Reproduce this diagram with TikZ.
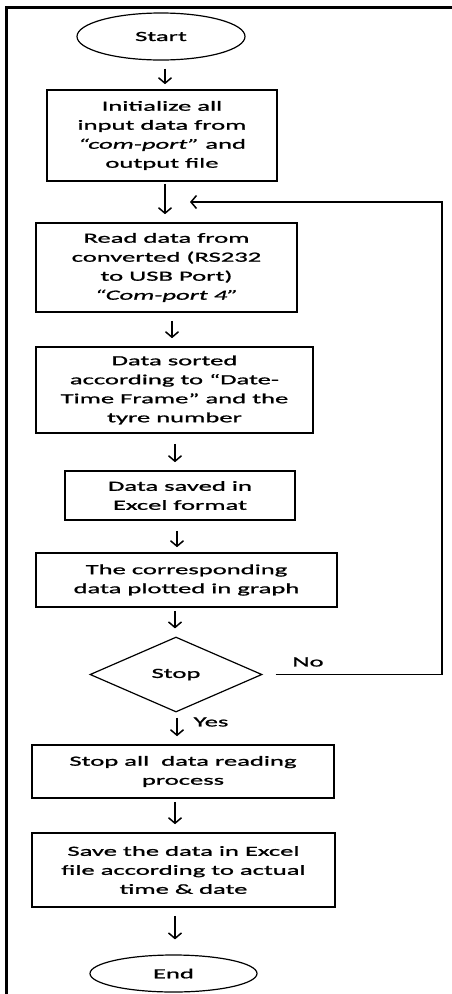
\documentclass[tikz,border=0pt]{standalone}
\usepackage{fontspec}
\setmainfont{Carlito}[FakeStretch=1.9,FakeBold=1.2]
\usetikzlibrary{arrows.meta,shapes.geometric}
\begin{document}
\begin{tikzpicture}[x=1pt,y=-1pt,
  txt/.style={font=\fontsize{14}{19}\selectfont},
  box/.style={draw, line width=1.6pt, inner sep=0pt, align=center, txt},
  term/.style={draw, ellipse, line width=1.2pt, inner sep=0pt, txt},
  dec/.style={draw, diamond, line width=1.2pt, inner sep=0pt, txt},
  arr/.style={line width=1.5pt, -{Straight Barb[length=5.5pt,width=13pt,line width=1.5pt]}},
  frame/.style={line width=3pt}]
\useasboundingbox (0,0) rectangle (452,994);
% frame
\coordinate (fb) at (6.5,994);
\coordinate (fc) at (6.5,7);
\coordinate (fr) at (452,7);
\draw[frame] (fb) -- (fc) -- (fr);
% nodes
\node[term, minimum width=168pt, minimum height=47pt] (start) at (161,36.5) {Start};
\node[box, minimum width=230pt, minimum height=91pt] (init) at (162,135.5)
  {Initialize all\\input data from\\\textit{``com-port''} and\\output file};
\node[box, minimum width=261pt, minimum height=89pt] (read) at (166.5,267.5)
  {Read data from\\converted (RS232\\to USB Port)\\\textit{``Com-port 4''}};
\node[box, minimum width=277pt, minimum height=86pt] (sort) at (174.5,390)
  {Data sorted\\according to ``Date-\\Time Frame'' and the\\tyre number};
\node[box, minimum width=230pt, minimum height=49pt] (save) at (180,495.5)
  {Data saved in\\Excel format};
\node[box, minimum width=301pt, minimum height=54pt] (plot) at (186.5,580)
  {The corresponding\\data plotted in graph};
\node[dec, minimum width=172pt, minimum height=75pt] (stop) at (176,674.5) {Stop};
\node[box, minimum width=302pt, minimum height=53pt] (stopall) at (183,771.5)
  {Stop all\ \ data reading\\process};
\node[box, minimum width=303pt, minimum height=74pt] (final) at (183.5,870)
  {Save the data in Excel\\file according to actual\\time \& date};
\node[term, minimum width=167pt, minimum height=37pt] (end) at (173.5,973.5) {End};
% labels
\node[txt] (no) at (308,662) {No};
\node[txt] (yes) at (211,722) {Yes};
% arrow x positions
\coordinate (a1) at (165,0);
\coordinate (a3) at (172,0);
\coordinate (a4) at (175,0);
\coordinate (a5) at (177,0);
\coordinate (a6) at (175,0);
\coordinate (a7) at (177,0);
\coordinate (a8) at (175,0);
\draw[arr, shorten <=8pt, shorten >=5pt] (start.south -| a1) -- (init.north -| a1);
\draw[arr, shorten <=2pt, shorten >=8pt] (init.south -| a1) -- (read.north -| a1);
\draw[arr, shorten <=8pt, shorten >=8pt] (read.south -| a3) -- (sort.north -| a3);
\draw[arr, shorten <=10pt, shorten >=8pt] (sort.south -| a4) -- (save.north -| a4);
\draw[arr, shorten <=10pt, shorten >=5pt] (save.south -| a5) -- (plot.north -| a5);
\draw[arr, shorten <=3pt, shorten >=8pt] (plot.south -| a6) -- (stop.north -| a6);
\draw[arr, shorten <=5pt, shorten >=8pt] (stop.south -| a7) -- (stopall.north -| a7);
\draw[arr, shorten <=3pt, shorten >=8pt] (stopall.south -| a8) -- (final.north -| a8);
\draw[arr, shorten <=8pt, shorten >=15pt] (final.south -| a8) -- (end.north -| a8);
% loop back
\coordinate (loopR) at (442,202);
\coordinate (loopT) at (190,202);
\draw[arr, shorten <=13pt] (stop.east) -| (loopR) -- (loopT);
\end{tikzpicture}
\end{document}
